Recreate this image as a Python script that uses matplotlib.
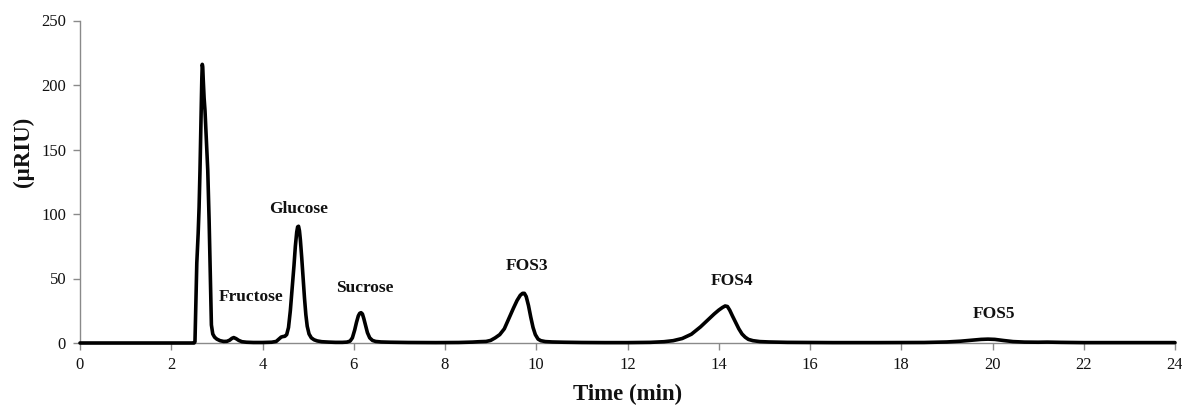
import matplotlib
matplotlib.use("Agg")
import matplotlib.pyplot as plt

# ---- data ----
time_min = [0.0, 2.50, 2.52, 2.54, 2.56, 2.59, 2.61, 2.63, 2.65, 2.67, 2.68, 2.69,
            2.70, 2.72, 2.74, 2.76, 2.78, 2.80, 2.83, 2.86, 2.88, 2.91, 2.95, 3.00,
            3.07, 3.15, 3.22, 3.28, 3.33, 3.37, 3.42, 3.48, 3.55, 3.65, 3.80, 4.00,
            4.20, 4.30, 4.36, 4.41, 4.45, 4.49, 4.53, 4.57, 4.61, 4.65, 4.69, 4.72,
            4.75, 4.77, 4.79, 4.81, 4.83, 4.86, 4.89, 4.92, 4.95, 4.98, 5.02, 5.07,
            5.13, 5.20, 5.30, 5.45, 5.60, 5.75, 5.85, 5.92, 5.97, 6.02, 6.06, 6.10,
            6.13, 6.16, 6.19, 6.22, 6.26, 6.30, 6.35, 6.41, 6.48, 6.60, 6.80, 7.20,
            7.80, 8.30, 8.60, 8.75, 8.90, 9.00, 9.10, 9.20, 9.30, 9.40, 9.50, 9.58,
            9.65, 9.70, 9.74, 9.78, 9.83, 9.88, 9.93, 9.98, 10.04, 10.10, 10.20, 10.35,
            10.60, 11.00, 11.50, 12.00, 12.50, 12.80, 13.00, 13.20, 13.40, 13.60, 13.75, 13.90,
            14.00, 14.08, 14.14, 14.19, 14.24, 14.30, 14.37, 14.44, 14.51, 14.58, 14.65, 14.75,
            14.90, 15.10, 15.50, 16.50, 17.50, 18.50, 19.00, 19.30, 19.55, 19.75, 19.90, 20.05,
            20.25, 20.45, 20.70, 21.00, 21.20, 21.50, 22.00, 23.00, 24.00]

signal_uriu = [0.0, 0.0, 1.0, 30.0, 62.0, 85.0, 105.0, 134.0, 170.0, 205.0, 216.0, 214.0,
               205.0, 190.0, 180.0, 165.0, 150.0, 134.0, 95.0, 45.0, 14.0, 7.0, 4.5, 3.0,
               1.8, 1.2, 1.3, 2.2, 3.6, 4.2, 3.4, 2.0, 1.0, 0.6, 0.4, 0.4,
               0.6, 1.2, 3.0, 4.6, 5.0, 5.2, 6.5, 12.0, 25.0, 42.0, 60.0, 75.0,
               86.0, 90.0, 90.5, 87.0, 80.0, 66.0, 50.0, 35.0, 22.0, 13.0, 7.0, 4.0,
               2.5, 1.6, 1.0, 0.7, 0.5, 0.5, 0.7, 1.5, 4.0, 10.0, 16.0, 21.0,
               23.0, 23.5, 22.5, 19.0, 13.5, 8.0, 4.0, 2.0, 1.2, 0.8, 0.6, 0.4,
               0.3, 0.4, 0.7, 1.0, 1.2, 2.0, 4.0, 6.5, 11.0, 19.0, 27.0, 33.0,
               37.0, 38.5, 38.5, 36.0, 29.0, 20.0, 12.0, 6.5, 3.0, 1.8, 1.1, 0.8,
               0.6, 0.4, 0.3, 0.3, 0.5, 1.0, 1.8, 3.5, 6.8, 12.5, 17.5, 22.5,
               25.5, 27.5, 28.7, 28.3, 25.5, 21.0, 16.0, 11.0, 7.0, 4.5, 2.8, 1.8,
               1.1, 0.8, 0.5, 0.3, 0.3, 0.4, 0.8, 1.4, 2.2, 2.8, 3.0, 2.8,
               1.9, 1.1, 0.7, 0.6, 0.7, 0.5, 0.3, 0.3, 0.3]

peak_names = ["Fructose", "Glucose", "Sucrose", "FOS3", "FOS4", "FOS5"]
label_time = [3.75, 4.79, 6.24, 9.80, 14.29, 20.03]
label_level = [32.6, 100.6, 39.8, 56.6, 45.0, 19.6]

x_ticks = list(range(0, 25, 2))
y_ticks = [0, 50, 100, 150, 200, 250]

# ---- figure ----
SERIF = ["Liberation Serif", "DejaVu Serif"]
W, H = 1182, 405
fig = plt.figure(figsize=(W / 100, H / 100), dpi=100)
ax = fig.add_axes([80 / W, (H - 343) / H, 1095 / W, 322.5 / H])

ax.plot(time_min, signal_uriu, color="black", lw=2.6,
        solid_joinstyle="round", solid_capstyle="round", clip_on=False, zorder=3)

ax.set_xlim(0, 24)
ax.set_ylim(0, 250)
ax.set_xticks(x_ticks)
ax.set_yticks(y_ticks)

for s in ["top", "right"]:
    ax.spines[s].set_visible(False)
for s in ["left", "bottom"]:
    ax.spines[s].set_color("#8a8a8a")
    ax.spines[s].set_linewidth(1.0)

ax.tick_params(axis="both", direction="out", length=5, width=1, color="#8a8a8a",
               labelsize=12, labelcolor="#111111", pad=5)
for lab in ax.get_xticklabels() + ax.get_yticklabels():
    lab.set_family(SERIF)

for name, t, v in zip(peak_names, label_time, label_level):
    ax.text(t, v, name, ha="center", va="baseline", fontsize=12.5,
            fontweight="bold", family=SERIF, color="#111111")

ax.set_xlabel("Time (min)", fontsize=16.5, fontweight="bold", family=SERIF,
              color="#111111")
ax.xaxis.label.set_va("center")
ax.xaxis.set_label_coords(0.5, -0.158)

ax.set_ylabel("(\u00b5RIU)", fontsize=16.5, fontweight="bold", family=SERIF,
              color="#111111")
ax.yaxis.label.set_va("center")
ax.yaxis.set_label_coords(-0.052, 0.594)

fig.savefig("out.png", dpi=100)
